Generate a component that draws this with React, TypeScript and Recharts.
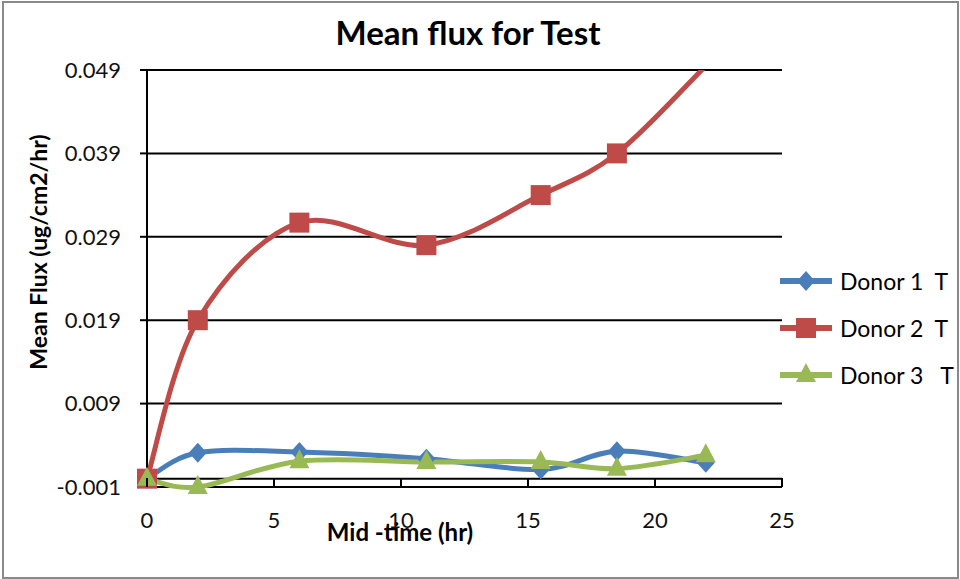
import { LineChart, Line, XAxis, YAxis, CartesianGrid } from 'recharts';

const times = [0, 2, 6, 11, 15.5, 18.5, 22];
const donor1 = [0, 0.0031, 0.0032, 0.0024, 0.0011, 0.0033, 0.0019];
const donor2 = [0, 0.019, 0.0307, 0.028, 0.034, 0.039, 0.0495];
const donor3 = [0, -0.001, 0.0021, 0.002, 0.002, 0.0012, 0.0028];

const xTicks = [0, 5, 10, 15, 20, 25];
const yTicks = [-0.001, 0.009, 0.019, 0.029, 0.039, 0.049];
const gridValues = [-0.001, 0, 0.009, 0.019, 0.029, 0.039, 0.049];

const Y_MIN = -0.001;
const Y_MAX = 0.049;

const FONT = "Lato, 'Open Sans', sans-serif";

const series = [
  { key: 'd1', name: 'Donor 1  T', color: '#4A7EBB', shape: 'diamond', values: donor1 },
  { key: 'd2', name: 'Donor 2  T', color: '#BE4B48', shape: 'square', values: donor2 },
  { key: 'd3', name: 'Donor 3   T', color: '#98B954', shape: 'triangle', values: donor3 },
];

const data = times.map((t, i) => ({
  t,
  d1: donor1[i],
  d2: donor2[i],
  d3: donor3[i],
}));

// Excel-style smoothed line: cubic bezier with catmull-rom control points
const smoothCurve = (context: any) => {
  let xs: number[] = [];
  let ys: number[] = [];
  return {
    areaStart() {},
    areaEnd() {},
    lineStart() {
      xs = [];
      ys = [];
    },
    point(x: number, y: number) {
      xs.push(+x);
      ys.push(+y);
    },
    lineEnd() {
      const n = xs.length;
      if (!n) return;
      context.moveTo(xs[0], ys[0]);
      for (let i = 0; i < n - 1; i++) {
        const a = Math.max(i - 1, 0);
        const d = Math.min(i + 2, n - 1);
        const c1x = xs[i] + (xs[i + 1] - xs[a]) / 6;
        const c1y = ys[i] + (ys[i + 1] - ys[a]) / 6;
        const c2x = xs[i + 1] - (xs[d] - xs[i]) / 6;
        const c2y = ys[i + 1] - (ys[d] - ys[i]) / 6;
        context.bezierCurveTo(c1x, c1y, c2x, c2y, xs[i + 1], ys[i + 1]);
      }
    },
  };
};

const Marker = ({ shape, color, cx, cy }: any) => {
  if (shape === 'square') {
    return <rect x={cx - 10} y={cy - 10} width={20} height={20} fill={color} />;
  }
  if (shape === 'diamond') {
    return <polygon points={`${cx},${cy - 10} ${cx + 9},${cy} ${cx},${cy + 10} ${cx - 9},${cy}`} fill={color} />;
  }
  return <polygon points={`${cx},${cy - 12} ${cx + 10},${cy + 7} ${cx - 10},${cy + 7}`} fill={color} />;
};

const makeDot = (shape: string, color: string) => (props: any) => {
  const { cx, cy, value, index } = props;
  if (value > Y_MAX || value < Y_MIN - 0.0005) return <g key={`m-${index}`} />;
  return (
    <g key={`m-${index}`}>
      <Marker shape={shape} color={color} cx={cx} cy={cy} />
    </g>
  );
};

const XTick = ({ x, y, payload }: any) => (
  <g>
    <line x1={x} x2={x} y1={y - 9} y2={y} stroke="#000" strokeWidth={2} />
    <text x={x} y={y + 35} textAnchor="middle" fontSize={22} fontFamily={FONT} fill="#111" dominantBaseline="middle">
      {payload.value}
    </text>
  </g>
);

export default function App() {
  return (
    <div style={{ position: 'absolute', left: 0, top: 0, width: 960, height: 579, background: '#fff', fontFamily: FONT }}>
      <style>{`.recharts-line-dots{clip-path:none !important}.no-clip,.no-clip *{clip-path:none !important}`}</style>
      <div style={{ position: 'absolute', left: 2, top: 1, width: 953, height: 574, border: '2px solid #8a8a8a' }} />
      <div style={{ position: 'absolute', left: 0, width: 936, top: 12, textAlign: 'center', fontSize: 33, fontWeight: 700, color: '#000' }}>
        Mean flux for Test
      </div>
      <div
        style={{
          position: 'absolute',
          left: 38,
          top: 252,
          transform: 'translate(-50%, -50%) rotate(-90deg)',
          whiteSpace: 'nowrap',
          fontSize: 23,
          fontWeight: 700,
        }}
      >
        Mean Flux (ug/cm2/hr)
      </div>
      <div
        style={{
          position: 'absolute',
          left: 400,
          top: 531,
          transform: 'translate(-50%, -50%)',
          whiteSpace: 'nowrap',
          fontSize: 24,
          fontWeight: 700,
        }}
      >
        Mid -time (hr)
      </div>
      <LineChart width={960} height={579} data={data} margin={{ top: 70, right: 178, bottom: 32, left: 0 }} style={{ position: 'absolute', left: 0, top: 0 }}>
        <CartesianGrid horizontal vertical={false} horizontalValues={gridValues} stroke="#000" strokeWidth={2} />
        <XAxis
          dataKey="t"
          type="number"
          domain={[0, 25]}
          ticks={xTicks}
          height={60}
          axisLine={false}
          tickLine={false}
          tickSize={0}
          tickMargin={0}
          tick={<XTick />}
          interval={0}
        />
        <YAxis
          type="number"
          domain={[Y_MIN, Y_MAX]}
          allowDataOverflow
          ticks={yTicks}
          width={147}
          interval={0}
          axisLine={{ stroke: '#000', strokeWidth: 2 }}
          tickLine={{ stroke: '#000', strokeWidth: 2 }}
          tickSize={7}
          tickMargin={19}
          tickFormatter={(v: number) => v.toFixed(3)}
          tick={{ fontSize: 22, fontFamily: FONT, fill: '#111' }}
        />
        {series.map((s) => (
          <Line
            key={s.key}
            className={s.key === 'd2' ? undefined : 'no-clip'}
            dataKey={s.key}
            name={s.name}
            type={smoothCurve as any}
            stroke={s.color}
            strokeWidth={5}
            dot={makeDot(s.shape, s.color)}
            activeDot={false}
            isAnimationActive={false}
          />
        ))}
      </LineChart>
      {series.map((s, i) => (
        <div
          key={s.key}
          style={{ position: 'absolute', left: 778, top: 281 + i * 47 - 15, height: 30, display: 'flex', alignItems: 'center' }}
        >
          <svg width={58} height={30}>
            <line x1={2} x2={54} y1={15} y2={15} stroke={s.color} strokeWidth={6} />
            <Marker shape={s.shape} color={s.color} cx={28} cy={15} />
          </svg>
          <span style={{ fontSize: 23, marginLeft: 4, whiteSpace: 'pre', color: '#000' }}>{s.name}</span>
        </div>
      ))}
    </div>
  );
}
